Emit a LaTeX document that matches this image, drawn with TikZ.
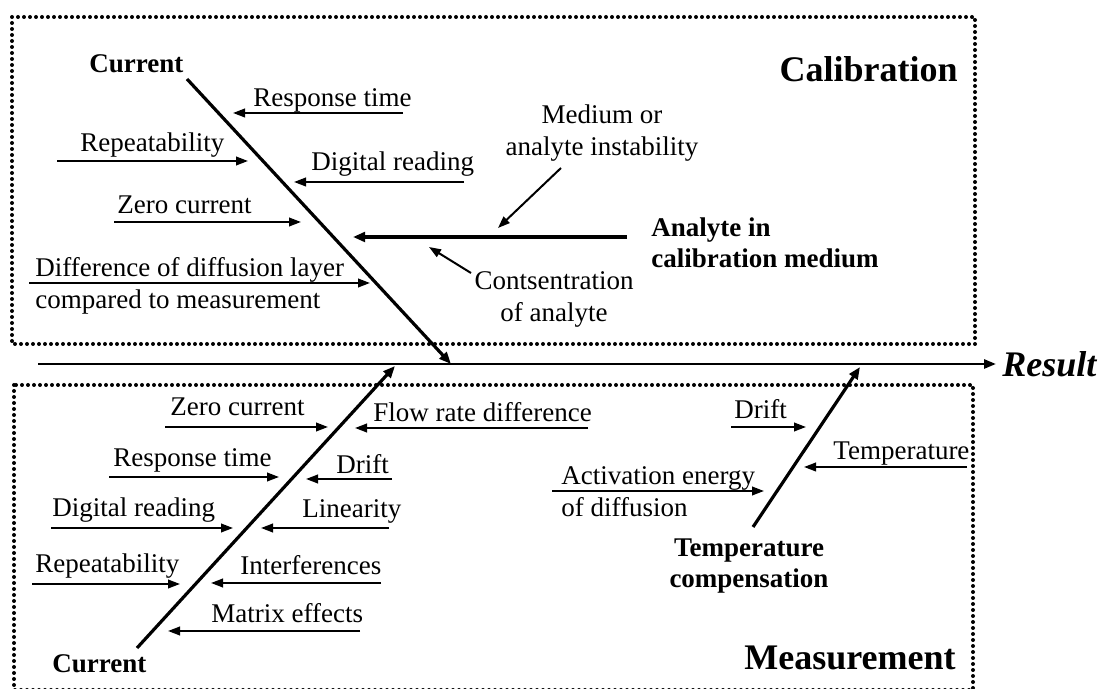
\documentclass[tikz,border=0pt]{standalone}
\usepackage{fontspec}
\setmainfont{Liberation Serif}
\usepackage{tikz}
\usetikzlibrary{arrows.meta, positioning}
\tikzset{
  region/.style={line width=2pt, line cap=round, dash pattern=on 0pt off 3pt},
  spine/.style={line width=1.3pt, -{Triangle[length=6pt,width=4.5pt]}},
  bone/.style={line width=1.6pt, -{Triangle[length=6pt,width=4.8pt]}},
  rib/.style={line width=1pt, -{Triangle[length=6pt,width=4.3pt]}},
  cause/.style={inner sep=0pt, font=\fontsize{13.5}{16}\selectfont},
  head/.style={inner sep=0pt, font=\fontsize{13.5}{15.5}\selectfont\bfseries},
  group/.style={inner sep=0pt, font=\fontsize{18}{21}\selectfont\bfseries}
}

\begin{document}
\begin{tikzpicture}[x=0.5pt, y=-0.5pt]
  \useasboundingbox (0,0) rectangle (1099,689);

  % Dotted group boxes
  \draw[region] (12,17) rectangle (975,344);
  \draw[region] (14,385) rectangle (973,690);
  \node[group, anchor=base east] (calib) at (958,82) {Calibration};
  \node[group, anchor=base east] (meas) at (956,670) {Measurement};

  % Main spine
  \coordinate (tail) at (38,364);
  \node[group, font=\fontsize{18}{21}\selectfont\bfseries\itshape, inner xsep=3pt, anchor=base west] (result) at (996,377) {Result};
  \draw[spine] (tail) -- (tail -| result.west);

  % Calibration bone
  \node[head, anchor=base west] (curTop) at (89,73) {Current};
  \coordinate (calTop) at (187,79);
  \coordinate (calTip) at (451,364);
  \draw[bone] (calTop) -- (calTip);

  % Analyte in calibration medium
  \node[head, anchor=north west, align=left] (cAna) at (651,217) {Analyte in\\calibration medium};
  \coordinate (anaEnd) at (627,237);
  \coordinate (anaTip) at (353,237);
  \draw[bone] (anaEnd) -- (anaTip);
  \node[cause, anchor=north, align=center] (cMed) at (602,104) {Medium or\\analyte instability};
  \coordinate (medTail) at (561,168);
  \coordinate (medTip) at (498,228);
  \draw[rib] (medTail) -- (medTip);
  \node[cause, anchor=north, align=center] (cCon) at (554,271) {Contsentration\\of analyte};
  \coordinate (conTail) at (471,273);
  \coordinate (conTip) at (429,247);
  \draw[rib] (conTail) -- (conTip);

  % Calibration causes
  \node[cause, anchor=base west] (cRt) at (253,107) {Response time};
  \node[cause, anchor=base west] (cRep) at (80,152) {Repeatability};
  \node[cause, anchor=base west] (cDig) at (311,171) {Digital reading};
  \node[cause, anchor=base west] (cZero) at (117,214) {Zero current};
  \node[cause, anchor=north west, align=left] (cDiff) at (35,257) {Difference of diffusion layer\\compared to measurement};

  % Measurement bone
  \node[head, anchor=base west] (curBot) at (52,673) {Current};
  \coordinate (meaBot) at (137,648);
  \coordinate (meaTip) at (395,366);
  \draw[bone] (meaBot) -- (meaTip);

  % Measurement causes
  \node[cause, anchor=base west] (mZero) at (170,416) {Zero current};
  \node[cause, anchor=base west] (mFlow) at (373,422) {Flow rate difference};
  \node[cause, anchor=base west] (mRt) at (113,467) {Response time};
  \node[cause, anchor=base west] (mDrift) at (336,474) {Drift};
  \node[cause, anchor=base west] (mDig) at (52,517) {Digital reading};
  \node[cause, anchor=base west] (mLin) at (302,518) {Linearity};
  \node[cause, anchor=base west] (mRep) at (35,573) {Repeatability};
  \node[cause, anchor=base west] (mInt) at (240,575) {Interferences};
  \node[cause, anchor=base west] (mMat) at (211,623) {Matrix effects};

  % Temperature compensation bone
  \node[head, anchor=north, align=center] (tComp) at (749,538) {Temperature\\compensation};
  \coordinate (tmpBot) at (753,527);
  \coordinate (tmpTip) at (860,367);
  \draw[bone] (tmpBot) -- (tmpTip);
  \node[cause, anchor=base west] (tDrift) at (734,419) {Drift};
  \node[cause, anchor=base west] (tTemp) at (833,460) {Temperature};
  \node[cause, anchor=north west, align=left] (tAct) at (561,466) {Activation energy\\of diffusion};

  % Rib arrows: name/tail x/head x/y
  \foreach \n/\a/\b/\y in {c1/403/233/113, c2/57/248/161, c3/464/294/182,
      c4/114/301/222, c5/29/370/283,
      m1/165/328/427, m2/588/355/428, m3/109/279/477, m4/392/306/479,
      m5/51/233/528, m6/389/261/528, m7/32/180/584, m8/381/211/583,
      m9/360/168/631,
      t1/731/806/427, t2/967/804/467, t3/552/764/491} {
    \coordinate (\n-s) at (\a,\y);
    \coordinate (\n-e) at (\b,\y);
    \draw[rib] (\n-s) -- (\n-e);
  }
\end{tikzpicture}
\end{document}
